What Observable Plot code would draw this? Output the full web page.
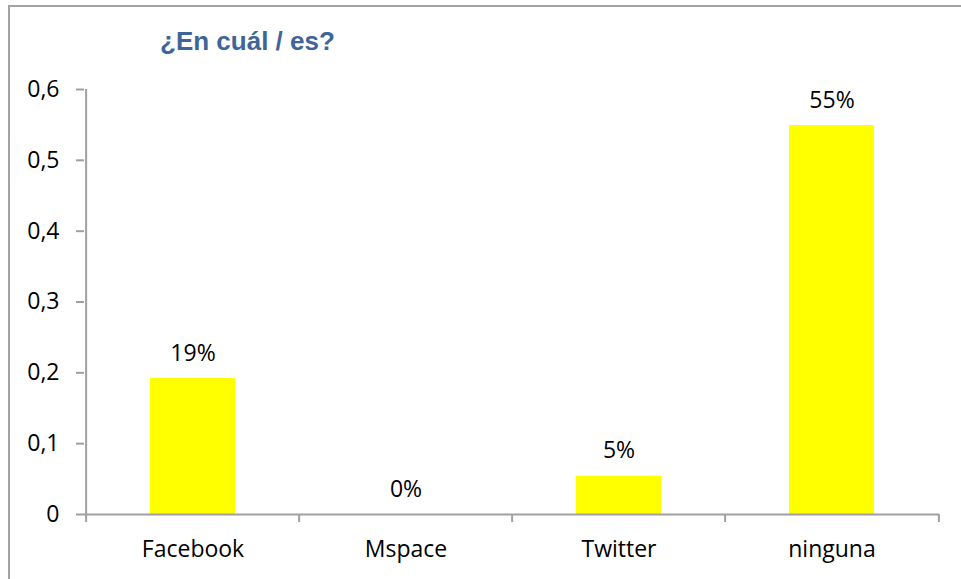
<!DOCTYPE html>
<html>
<head>
<meta charset="utf-8">
<script src="https://cdn.jsdelivr.net/npm/d3@7"></script>
<script src="https://cdn.jsdelivr.net/npm/@observablehq/plot@0.6"></script>
<style>
html, body { margin: 0; padding: 0; background: #fff; overflow: hidden; }
#wrap { position: relative; width: 961px; height: 579px; overflow: hidden; }
#border { position: absolute; left: 8px; top: 5px; width: 1200px; height: 1200px;
  border-left: 2px solid #a3a3a3; border-top: 2px solid #a3a3a3; }
#title { position: absolute; left: 160px; top: 28px; font: bold 26px "Liberation Sans", Arial, sans-serif;
  line-height: 26px; color: #3E6598; white-space: nowrap; }
#chart { position: absolute; left: 0; top: 0; }
</style>
</head>
<body>
<div id="wrap">
  <div id="border"></div>
  <div id="chart"></div>
  <div id="title">¿En cuál / es?</div>
</div>
<script>
const categories = ["Facebook", "Mspace", "Twitter", "ninguna"];
const values = [0.192, 0, 0.054, 0.549];
const labels = ["19%", "0%", "5%", "55%"];
const yTicks = [0, 0.1, 0.2, 0.3, 0.4, 0.5, 0.6];

const data = categories.map((c, i) => ({cat: c, value: values[i], label: labels[i]}));

const W = 961, H = 579, mt = 89, mb = 65, ml = 84, mr = 22;
const yMax = 0.6;
const pxPerUnit = (H - mt - mb) / yMax;
const tickLen = 8 / pxPerUnit;
const half = (W - ml - mr) / categories.length / 2;
const axisColor = "#a0a0a0";
const fs = 23;

const chart = Plot.plot({
  width: W,
  height: H,
  marginTop: mt,
  marginBottom: mb,
  marginLeft: ml,
  marginRight: mr,
  style: {fontFamily: "'Open Sans', sans-serif", fontSize: fs + "px", background: "transparent", color: "#000"},
  x: {type: "band", domain: categories, padding: 0, axis: null},
  y: {domain: [0, yMax], axis: null},
  marks: [
    Plot.barY(data, {x: "cat", y: "value", fill: "#FFFF00", insetLeft: 64, insetRight: 64}),
    Plot.ruleY([0], {stroke: axisColor, strokeWidth: 2}),
    Plot.ruleX([categories[0]], {x: d => d, dx: -half, y1: -tickLen, y2: yMax, stroke: axisColor, strokeWidth: 2}),
    Plot.ruleX(categories.slice(1), {x: d => d, dx: -half, y1: -tickLen, y2: 0, stroke: axisColor, strokeWidth: 2}),
    Plot.ruleX([categories[categories.length - 1]], {x: d => d, dx: half, y1: -tickLen, y2: 0, stroke: axisColor, strokeWidth: 2}),
    Plot.axisY({ticks: yTicks, tickFormat: d => String(d).replace(".", ","), tickSize: 8, tickPadding: 17,
      fontSize: fs, stroke: axisColor, strokeWidth: 2, fill: "#000", label: null}),
    Plot.axisX({tickSize: 0, tickPadding: 26, fontSize: fs, fill: "#000", label: null}),
    Plot.text(data, {x: "cat", y: "value", text: "label", dy: -18, lineAnchor: "bottom", fontSize: fs, fill: "#000"})
  ]
});
document.getElementById("chart").appendChild(chart);
</script>
</body>
</html>
